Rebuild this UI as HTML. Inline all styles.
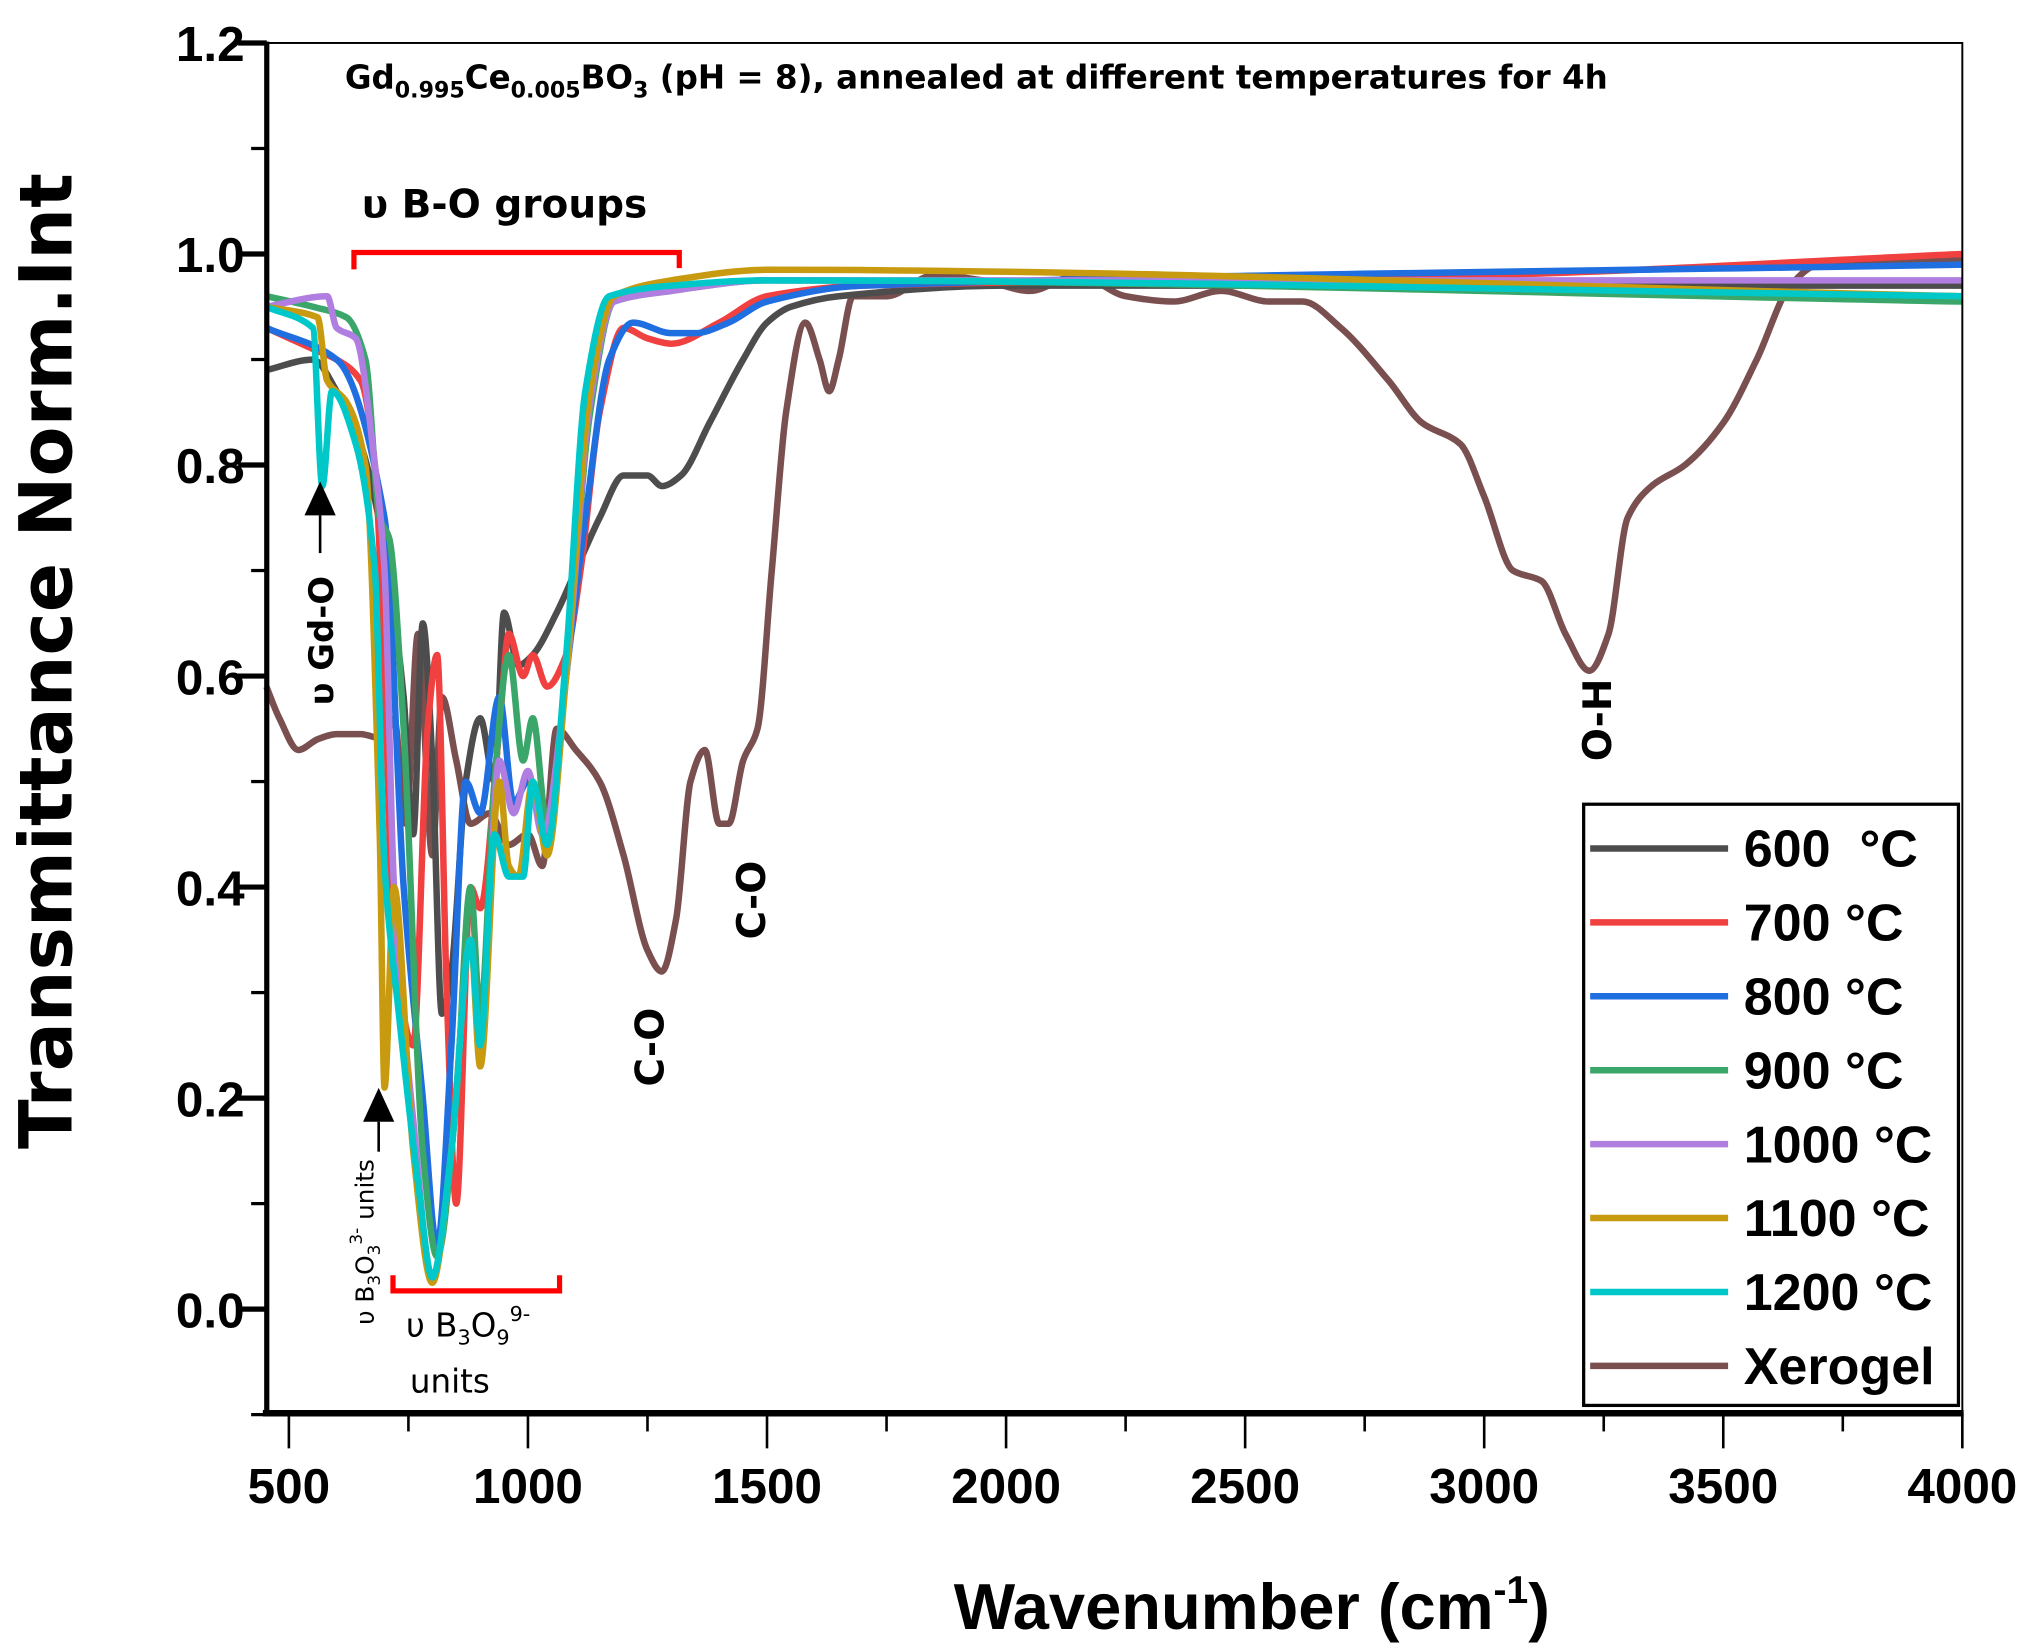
<!DOCTYPE html>
<html><head><meta charset="utf-8"><style>
html,body{margin:0;padding:0;background:#fff;}
svg{display:block;font-family:"Liberation Sans","DejaVu Sans",sans-serif;}
</style></head><body>
<svg id="chart" width="2030" height="1651" viewBox="0 0 1560 1268.7" xmlns="http://www.w3.org/2000/svg">
<g id="series"></g>
<g id="axes"></g>
<g font-family="DejaVu Sans, sans-serif" font-weight="bold">
<text x="265" y="68" font-size="25">Gd<tspan font-size="17" dy="7">0.995</tspan><tspan dy="-7">Ce</tspan><tspan font-size="17" dy="7">0.005</tspan><tspan dy="-7">BO</tspan><tspan font-size="17" dy="7">3</tspan><tspan dy="-7"> (pH = 8), annealed at different temperatures for 4h</tspan></text>
<text x="278" y="167" font-size="30">υ B-O groups</text>
<path d="M272,207 V194 H522 V206" fill="none" stroke="#ff0000" stroke-width="4"/>
<path d="M234,396 L246,370 L258,396 Z" fill="#000"/>
<line x1="246" y1="396" x2="246" y2="425" stroke="#000" stroke-width="2"/>
<text transform="translate(256,542) rotate(-90)" font-size="26">υ Gd-O</text>
<path d="M279,862 L291,836 L303,862 Z" fill="#000"/>
<line x1="291" y1="862" x2="291" y2="885" stroke="#000" stroke-width="2"/>
<text transform="translate(287,1018) rotate(-90)" font-size="19" font-weight="normal">υ B<tspan font-size="13" dy="5">3</tspan><tspan dy="-5">O</tspan><tspan font-size="13" dy="5">3</tspan><tspan font-size="13" dy="-14">3-</tspan><tspan dy="9"> units</tspan></text>
<path d="M302,980 V992 H430 V980" fill="none" stroke="#ff0000" stroke-width="4"/>
<text x="312" y="1027" font-size="25" font-weight="normal">υ B<tspan font-size="16" dy="6">3</tspan><tspan dy="-6">O</tspan><tspan font-size="16" dy="6">9</tspan><tspan font-size="16" dy="-18">9-</tspan></text>
<text x="315" y="1070" font-size="25" font-weight="normal">units</text>
<text transform="translate(510,835) rotate(-90)" font-size="30">C-O</text>
<text transform="translate(588,722) rotate(-90)" font-size="30">C-O</text>
<text transform="translate(1238,585) rotate(-90)" font-size="30">O-H</text>
</g>
<g id="legend"></g>
</svg>
<script>
const categories=["600  °C","700 °C","800 °C","900 °C","1000 °C","1100 °C","1200 °C","Xerogel"];
const colors=["#4d4d4d","#f04040","#1f6fe0","#3aa66a","#b07ee0","#c89a10","#00c8c8","#7a4f4f"];
const xTicks=[500,1000,1500,2000,2500,3000,3500,4000];
const yTicks=[0.0,0.2,0.4,0.6,0.8,1.0,1.2];
const yTickLabels=["0.0","0.2","0.4","0.6","0.8","1.0","1.2"];
const s600=[[450,0.89],[550,0.90],[600,0.87],[650,0.82],[700,0.72],[740,0.58],[760,0.45],[780,0.65],[800,0.52],[820,0.28],[840,0.32],[870,0.50],[900,0.56],[930,0.50],[950,0.66],[980,0.61],[1010,0.62],[1060,0.66],[1100,0.70],[1150,0.75],[1200,0.79],[1250,0.79],[1280,0.78],[1320,0.79],[1380,0.84],[1450,0.90],[1500,0.935],[1550,0.95],[1650,0.96],[2000,0.97],[4000,0.97]];
const s700=[[450,0.93],[550,0.91],[600,0.90],[650,0.88],[680,0.80],[700,0.60],[720,0.35],[760,0.25],[790,0.55],[810,0.62],[830,0.30],[850,0.10],[880,0.40],[900,0.38],[940,0.55],[960,0.64],[990,0.60],[1010,0.62],[1040,0.59],[1080,0.62],[1110,0.70],[1150,0.85],[1200,0.93],[1250,0.92],[1300,0.915],[1400,0.935],[1500,0.96],[1700,0.97],[3000,0.98],[4000,1.0]];
const s800=[[450,0.93],[600,0.90],[700,0.75],[740,0.40],[780,0.20],[810,0.06],[840,0.25],[870,0.50],[900,0.47],[940,0.58],[970,0.48],[1000,0.50],[1040,0.45],[1080,0.60],[1120,0.75],[1170,0.90],[1220,0.935],[1300,0.925],[1350,0.925],[1420,0.935],[1500,0.955],[1700,0.97],[4000,0.99]];
const s900=[[450,0.96],[550,0.95],[620,0.94],[660,0.90],[690,0.75],[710,0.73],[740,0.55],[780,0.15],[810,0.05],[850,0.20],[880,0.40],[900,0.28],[930,0.50],[960,0.62],[990,0.52],[1010,0.56],[1040,0.46],[1080,0.60],[1130,0.85],[1180,0.955],[1300,0.965],[1500,0.975],[4000,0.955]];
const s1000=[[450,0.95],[580,0.96],[600,0.93],[640,0.92],[680,0.80],[700,0.70],[720,0.40],[760,0.18],[800,0.03],[840,0.15],[880,0.35],[900,0.25],[940,0.52],[970,0.47],[1000,0.51],[1030,0.45],[1080,0.60],[1130,0.86],[1180,0.955],[1300,0.965],[1500,0.975],[4000,0.975]];
const s1100=[[450,0.95],[560,0.94],[580,0.88],[620,0.86],[660,0.80],[690,0.45],[700,0.21],[720,0.40],[760,0.15],[800,0.025],[840,0.15],[880,0.35],[900,0.23],[940,0.50],[960,0.42],[980,0.41],[1010,0.50],[1040,0.43],[1080,0.60],[1130,0.87],[1180,0.96],[1300,0.975],[1500,0.985],[4000,0.96]];
const s1200=[[450,0.95],[550,0.93],[570,0.78],[590,0.87],[640,0.82],[680,0.70],[700,0.42],[730,0.28],[770,0.12],[800,0.03],[840,0.15],[880,0.35],[900,0.25],[930,0.45],[960,0.41],[990,0.41],[1010,0.50],[1040,0.44],[1080,0.62],[1120,0.87],[1170,0.96],[1300,0.97],[1500,0.975],[4000,0.96]];
const sXero=[[450,0.59],[480,0.56],[520,0.53],[560,0.54],[600,0.545],[650,0.545],[700,0.54],[720,0.56],[745,0.46],[770,0.64],[800,0.43],[820,0.58],[850,0.52],[880,0.46],[920,0.47],[960,0.44],[1000,0.45],[1030,0.42],[1060,0.55],[1100,0.53],[1150,0.50],[1200,0.43],[1250,0.34],[1280,0.32],[1310,0.37],[1340,0.50],[1370,0.53],[1400,0.46],[1420,0.46],[1450,0.52],[1480,0.55],[1510,0.70],[1540,0.85],[1580,0.935],[1610,0.90],[1630,0.87],[1650,0.90],[1680,0.96],[1750,0.96],[1850,0.98],[1950,0.975],[2050,0.965],[2150,0.98],[2250,0.96],[2350,0.955],[2450,0.965],[2550,0.955],[2620,0.955],[2700,0.93],[2800,0.88],[2870,0.84],[2950,0.82],[3000,0.77],[3060,0.70],[3120,0.69],[3170,0.64],[3220,0.605],[3260,0.64],[3300,0.75],[3350,0.78],[3420,0.80],[3500,0.84],[3570,0.90],[3640,0.97],[3700,0.99],[4000,0.995]];
const seriesData=[s600,s700,s800,s900,s1000,s1100,s1200,sXero];

const NS="http://www.w3.org/2000/svg";
const L=205,R=1508,T=33,B=1086;
function xs(v){return 222+(v-500)*(1286/3500);}
function ys(v){return 1006-v*(973/1.2);}
function mk(tag,attrs,parent){const e=document.createElementNS(NS,tag);for(const k in attrs)e.setAttribute(k,attrs[k]);parent.appendChild(e);return e;}
function slope(pts,i){
 const n=pts.length;
 if(i===0) return (pts[1][1]-pts[0][1])/(pts[1][0]-pts[0][0]);
 if(i===n-1) return (pts[n-1][1]-pts[n-2][1])/(pts[n-1][0]-pts[n-2][0]);
 const a=(pts[i][1]-pts[i-1][1])/(pts[i][0]-pts[i-1][0]);
 const b=(pts[i+1][1]-pts[i][1])/(pts[i+1][0]-pts[i][0]);
 if(a*b<=0) return 0;
 return 2/(1/a+1/b);
}
function smooth(pts){
 let d='M'+pts[0][0].toFixed(1)+','+pts[0][1].toFixed(1);
 for(let i=0;i<pts.length-1;i++){
  const p1=pts[i],p2=pts[i+1],dx=(p2[0]-p1[0])/3;
  const m1=slope(pts,i),m2=slope(pts,i+1);
  d+='C'+(p1[0]+dx).toFixed(1)+','+(p1[1]+m1*dx).toFixed(1)+' '+(p2[0]-dx).toFixed(1)+','+(p2[1]-m2*dx).toFixed(1)+' '+p2[0].toFixed(1)+','+p2[1].toFixed(1);
 }
 return d;
}
const gS=document.getElementById('series'),gA=document.getElementById('axes'),gL=document.getElementById('legend');
const order=[7,0,1,2,3,4,5,6];
order.forEach(i=>{
 const pts=seriesData[i].map(p=>[xs(Math.max(p[0],453)),ys(p[1])]);
 const p=mk('path',{d:smooth(pts),fill:'none',stroke:colors[i],'stroke-width':5,'stroke-linejoin':'round'},gS);
 
 
});
const fr=mk('rect',{x:L,y:T,width:R-L,height:B-T,fill:'none',stroke:'#000','stroke-width':1.5},gA);


const ya=mk('line',{x1:L,y1:T-1,x2:L,y2:B+2,stroke:'#000','stroke-width':4},gA);


const xa=mk('line',{x1:L-3,y1:B,x2:R+1,y2:B,stroke:'#000','stroke-width':5},gA);


xTicks.forEach(v=>{
 mk('line',{x1:xs(v),y1:B,x2:xs(v),y2:B+27,stroke:'#000','stroke-width':2},gA);
 if(v<4000) mk('line',{x1:xs(v+250),y1:B,x2:xs(v+250),y2:B+14,stroke:'#000','stroke-width':2},gA);
 const t=mk('text',{x:xs(v),y:1155,'text-anchor':'middle','font-size':38,'font-weight':'bold'},gA);
 t.textContent=v;
 
 
});
yTicks.forEach((v,i)=>{
 mk('line',{x1:L-22,y1:ys(v),x2:L,y2:ys(v),stroke:'#000','stroke-width':4},gA);
 mk('line',{x1:L-12,y1:ys(v-0.1),x2:L,y2:ys(v-0.1),stroke:'#000','stroke-width':2.5},gA);
 const t=mk('text',{x:188,y:ys(v)+14,'text-anchor':'end','font-size':38,'font-weight':'bold'},gA);
 t.textContent=yTickLabels[i];
 
 
});
const xt=mk('text',{x:962,y:1252,'text-anchor':'middle','font-size':50,'font-weight':'bold'},gA);
xt.innerHTML='Wavenumber (cm<tspan font-size="30" dy="-20">-1</tspan><tspan dy="20">)</tspan>';


const yt=mk('text',{transform:'translate(55,508) rotate(-90)','text-anchor':'middle','font-size':56,'font-weight':'bold','font-family':'DejaVu Sans, sans-serif'},gA);
yt.textContent='Transmittance  Norm.Int';


const lb=mk('rect',{x:1217,y:618,width:288,height:462,fill:'#fff',stroke:'#000','stroke-width':2.5},gL);


categories.forEach((c,i)=>{
 const y=652+i*56.8;
 const g=mk('g',{},gL);
 
 
 mk('line',{x1:1222,y1:y,x2:1328,y2:y,stroke:colors[i],'stroke-width':5},g);
 const t=mk('text',{x:1340,y:y+14,'font-size':40,'font-weight':'bold'},g);
 t.textContent=c;
 t.style.whiteSpace='pre';
});
</script>
</body></html>
